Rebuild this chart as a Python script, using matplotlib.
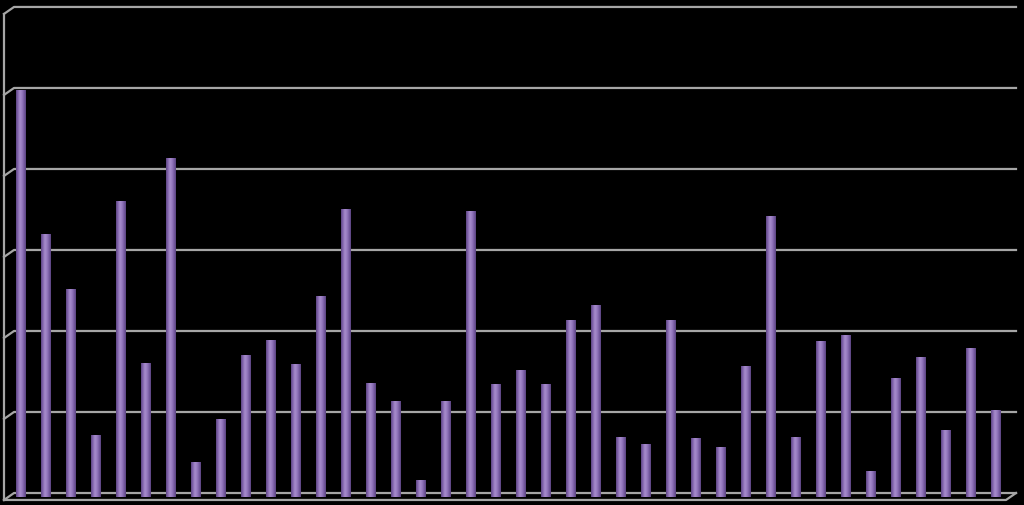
import matplotlib
matplotlib.use("Agg")
import matplotlib.pyplot as plt
import numpy as np
from matplotlib.colors import LinearSegmentedColormap

# valores (escala 0-60, rejilla cada 10)
categorias = list(range(1, 41))
valores = [49.8, 32.0, 25.2, 7.2, 36.0, 16.0, 41.4, 3.8, 9.1, 17.0,
           18.9, 15.9, 24.3, 35.1, 13.6, 11.4, 1.6, 11.4, 34.8, 13.5,
           15.2, 13.5, 21.4, 23.2, 6.9, 6.0, 21.4, 6.8, 5.7, 15.7,
           34.2, 6.9, 18.8, 19.5, 2.7, 14.2, 16.8, 7.8, 17.9, 10.2]
rejilla = [0, 10, 20, 30, 40, 50, 60]

fig = plt.figure(figsize=(10.24, 5.05), dpi=100, facecolor="black")
ax = fig.add_axes([0, 0, 1, 1])
ax.set_facecolor("black")
ax.set_xlim(-0.84, 40.12)
ax.set_ylim(-1.48, 60.86)
ax.axis("off")

# desplazamiento "3D" de la pared del fondo
dx, dy = 0.4, -0.86
x_ini, x_fin = -0.28, 39.8
gris = "#a6a6a6"

for y in rejilla:
    ax.plot([x_ini - dx, x_ini, x_fin], [y + dy, y, y], color=gris, lw=1.6, zorder=1)
ax.plot([x_ini - dx, x_ini - dx], [dy, rejilla[-1] + dy], color=gris, lw=1.6, zorder=1)
# suelo frontal
ax.plot([x_ini - dx, x_fin - dx, x_fin], [dy, dy, 0], color=gris, lw=1.6, zorder=1)

cmap = LinearSegmentedColormap.from_list(
    "cil", ["#5d4682", "#8567b0", "#a68ccb", "#977cc0", "#7a5ea5", "#5a4380"])
grad = np.linspace(0, 1, 64).reshape(1, -1)

x = np.arange(len(categorias))
barras = ax.bar(x, np.array(valores) + 0.5, bottom=-0.5, width=0.4, color="#8466ad", zorder=2)
for b in barras:
    x0, y0 = b.get_x(), b.get_y()
    im = ax.imshow(grad, cmap=cmap, aspect="auto", zorder=3,
                   extent=[x0, x0 + b.get_width(), y0, y0 + b.get_height()])
    im.set_clip_path(b)

plt.savefig("out.png", dpi=100, facecolor="black")
plt.close()
